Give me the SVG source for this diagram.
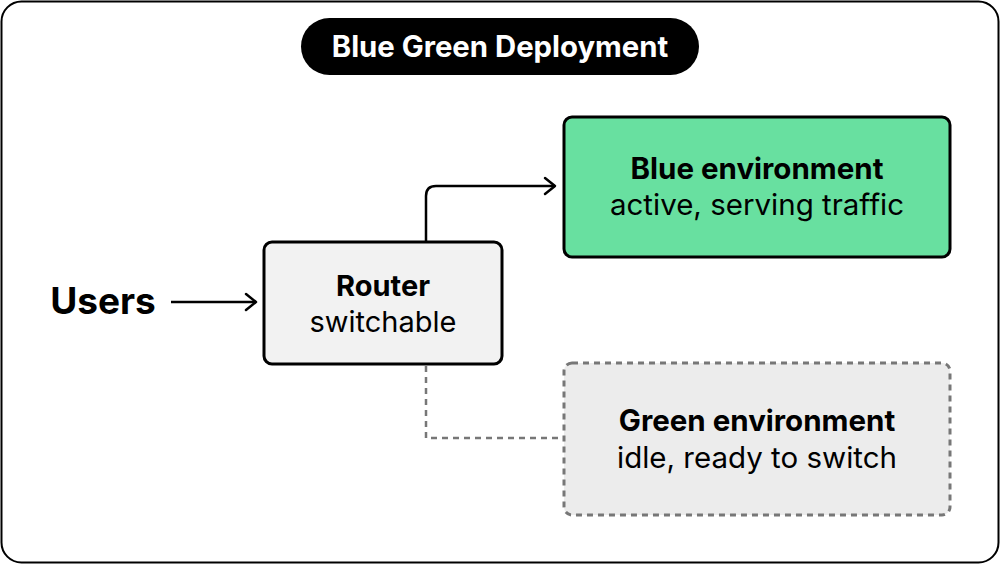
<svg xmlns="http://www.w3.org/2000/svg" width="1000" height="565" viewBox="0 0 1000 565">
<style>
text{font-family:Inter,"Liberation Sans",sans-serif;text-anchor:middle;fill:#000}
.b{font-weight:bold}
.n{font-size:29.5px}
</style>
<defs>
<marker id="ah" markerWidth="14" markerHeight="20" refX="12" refY="10" orient="auto" markerUnits="userSpaceOnUse">
<path d="M2,2 L12,10 L2,18" fill="none" stroke="#000" stroke-width="2.5" stroke-linecap="round" stroke-linejoin="round"/>
</marker>
</defs>
<rect x="1.5" y="1.5" width="997" height="561" rx="20" fill="#fff" stroke="#000" stroke-width="2"/>
<g id="title">
<rect x="301" y="18" width="398" height="57" rx="28.5" fill="#000"/>
<text x="500" y="57" class="b" font-size="29.3" style="fill:#fff">Blue Green Deployment</text>
</g>
<g id="connectors" fill="none" stroke-width="2.5">
<path d="M171,302 H256" stroke="#000" marker-end="url(#ah)"/>
<path d="M426,241 V196 Q426,186 436,186 H555" stroke="#000" marker-end="url(#ah)"/>
<path d="M426,366 V438 H564" stroke="#777" stroke-dasharray="6,5"/>
</g>
<g id="users"><text x="103" y="314" class="b" font-size="37">Users</text></g>
<g id="router">
<rect x="264" y="242" width="238" height="122" rx="8" fill="#f2f2f2" stroke="#000" stroke-width="3"/>
<text x="383" y="296" class="b" font-size="29">Router</text>
<text x="383" y="332" font-size="29">switchable</text>
</g>
<g id="blue">
<rect x="564" y="117" width="386" height="140" rx="8" fill="#68e0a0" stroke="#000" stroke-width="3"/>
<text x="757" y="179" class="b n">Blue environment</text>
<text x="757" y="215" class="n">active, serving traffic</text>
</g>
<g id="green">
<rect x="564" y="363" width="386" height="152" rx="8" fill="#ececec" stroke="#777" stroke-width="3" stroke-dasharray="6,5"/>
<text x="757" y="431" class="b n">Green environment</text>
<text x="757" y="468" class="n">idle, ready to switch</text>
</g>
</svg>
